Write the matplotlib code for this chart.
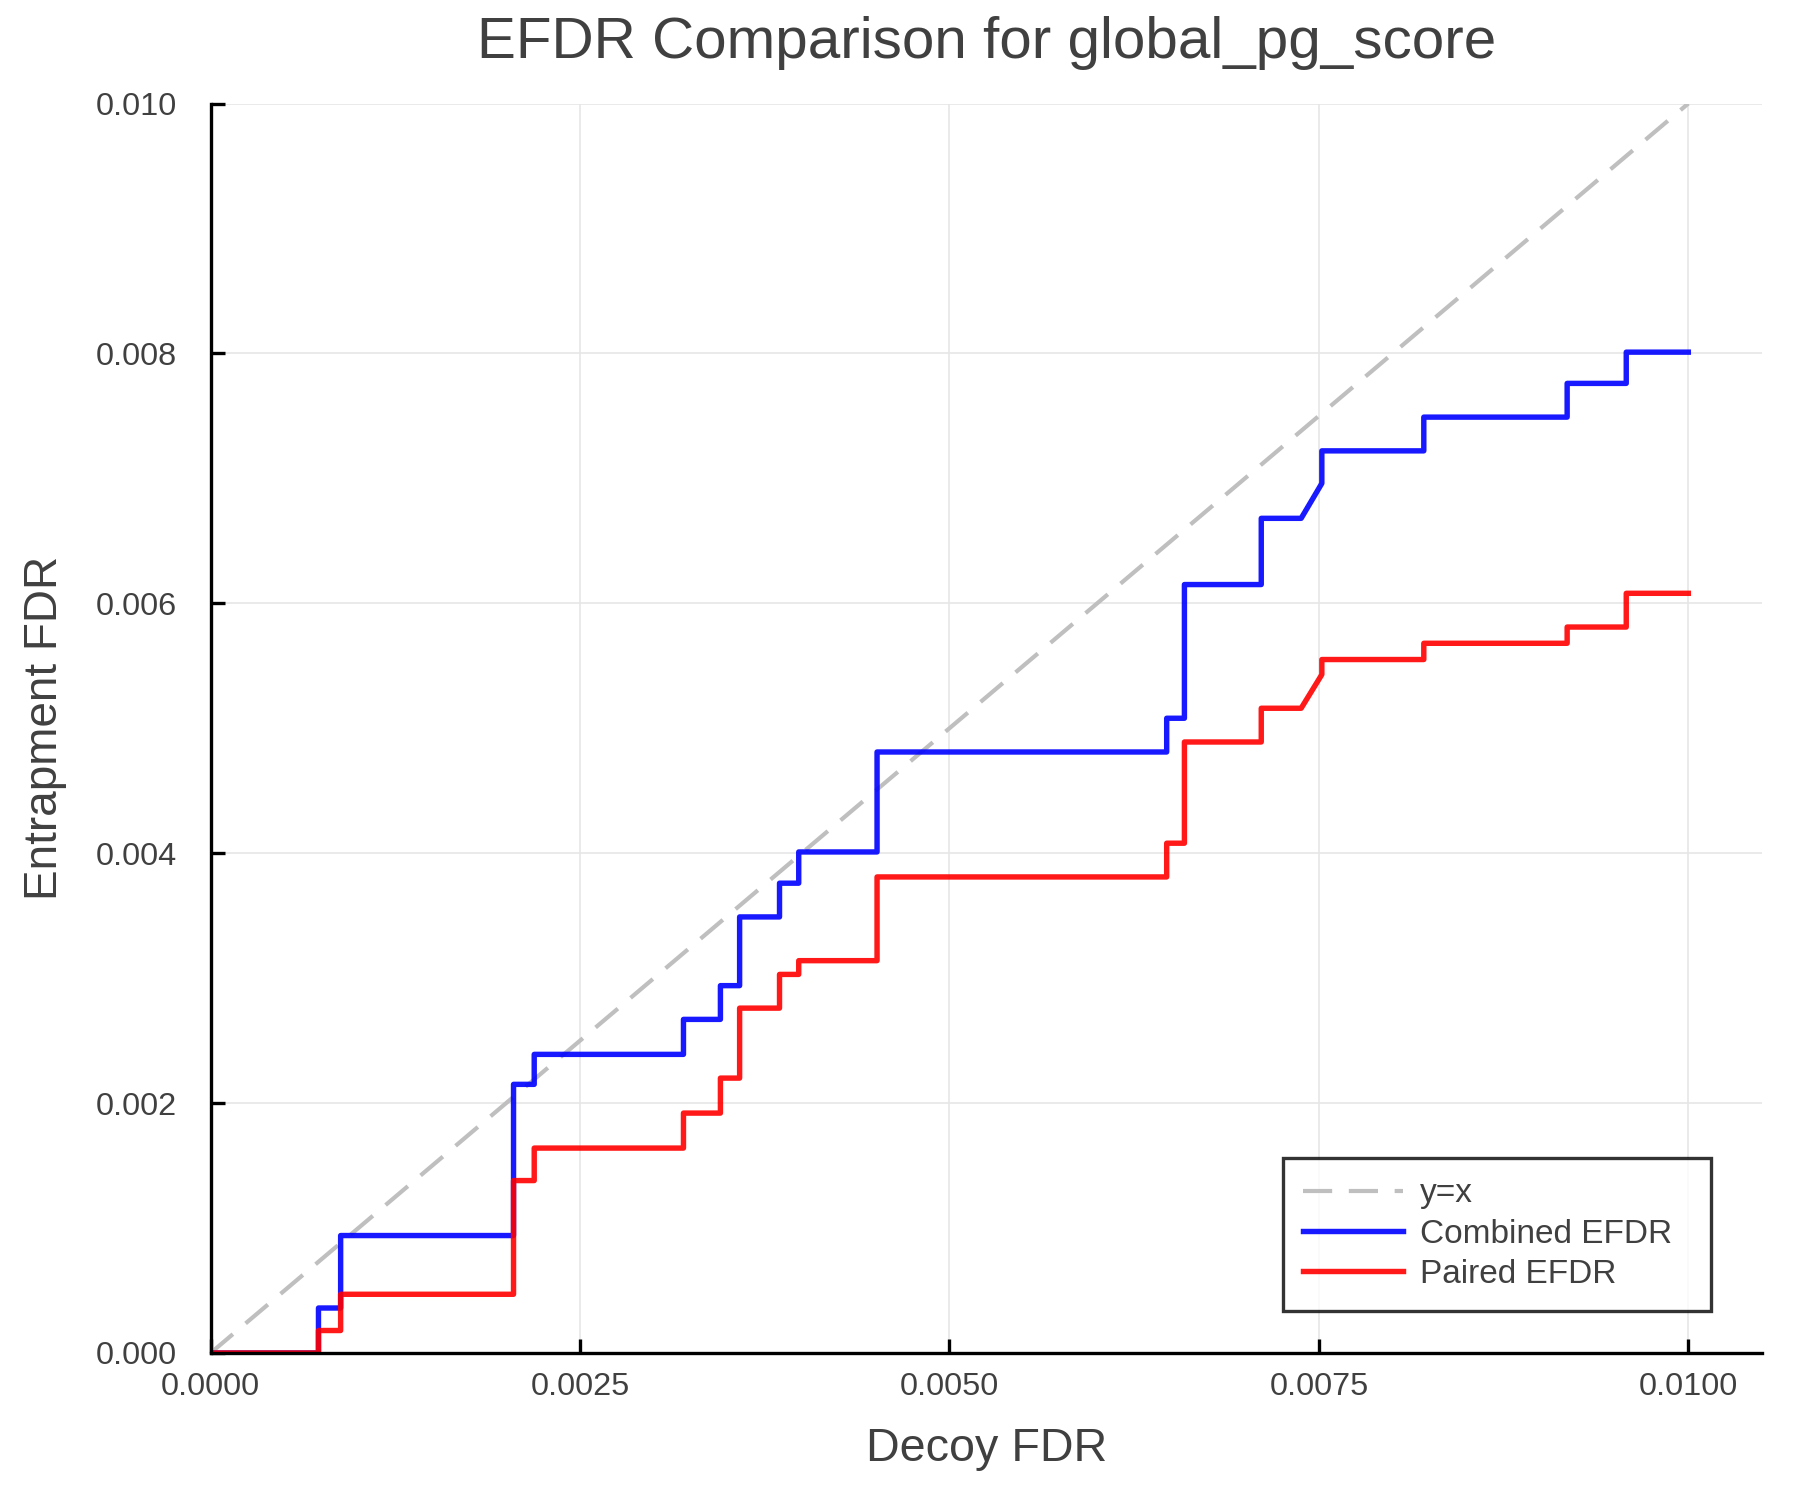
import numpy as np
import matplotlib
matplotlib.use("Agg")
import matplotlib.pyplot as plt

# values (decoy FDR -> entrapment FDR)
decoy_fdr = [0.0, 0.00073, 0.00073, 0.00088, 0.00088, 0.00205, 0.00205, 0.00219, 0.00219,
             0.00320, 0.00320, 0.00345, 0.00345, 0.00358, 0.00358, 0.00385, 0.00385,
             0.00398, 0.00398, 0.00451, 0.00451, 0.00647, 0.00647, 0.00659, 0.00659,
             0.00711, 0.00711, 0.00738, 0.00752, 0.00752, 0.00821, 0.00821, 0.00918,
             0.00918, 0.00958, 0.00958, 0.0100]
combined_efdr = [0.0, 0.0, 0.00036, 0.00036, 0.00094, 0.00094, 0.00215, 0.00215, 0.00239,
                 0.00239, 0.00267, 0.00267, 0.00294, 0.00294, 0.00349, 0.00349, 0.00376,
                 0.00376, 0.00401, 0.00401, 0.00481, 0.00481, 0.00508, 0.00508, 0.00615,
                 0.00615, 0.00668, 0.00668, 0.00696, 0.00722, 0.00722, 0.00749, 0.00749,
                 0.00776, 0.00776, 0.00801, 0.00801]
paired_efdr = [0.0, 0.0, 0.00018, 0.00018, 0.00047, 0.00047, 0.00138, 0.00138, 0.00164,
               0.00164, 0.00192, 0.00192, 0.00220, 0.00220, 0.00276, 0.00276, 0.00303,
               0.00303, 0.00314, 0.00314, 0.00381, 0.00381, 0.00408, 0.00408, 0.00489,
               0.00489, 0.00516, 0.00516, 0.00543, 0.00555, 0.00555, 0.00568, 0.00568,
               0.00581, 0.00581, 0.00608, 0.00608]
diag = [0.0, 0.01]
xticks = [0.0, 0.0025, 0.005, 0.0075, 0.01]
yticks = [0.0, 0.002, 0.004, 0.006, 0.008, 0.010]

txt = '#404040'
plt.rcParams['font.family'] = ['Liberation Sans', 'DejaVu Sans']

fig = plt.figure(figsize=(6, 5), dpi=300)
ax = fig.add_axes([0.117, 0.098, 0.862, 0.833])

ax.plot(diag, diag, color='#bfbfbf', lw=1.0, dashes=(7, 4), label='y=x')
ax.plot(decoy_fdr, combined_efdr, color='#0000ff', lw=1.3, label='Combined EFDR', alpha=0.9)
ax.plot(decoy_fdr, paired_efdr, color='#ff0000', lw=1.3, label='Paired EFDR', alpha=0.9)

ax.set_xlim(0, 0.0105)
ax.set_ylim(0, 0.010)
ax.set_xticks(xticks)
ax.set_xticklabels(['%.4f' % v for v in xticks])
ax.set_yticks(yticks)
ax.set_yticklabels(['%.3f' % v for v in yticks])

for s in ['top', 'right']:
    ax.spines[s].set_visible(False)
for s in ['left', 'bottom']:
    ax.spines[s].set_linewidth(0.8)
    ax.spines[s].set_color('black')

ax.tick_params(direction='in', length=3.4, width=0.8, color='black',
               labelsize=7.8, labelcolor=txt)
ax.tick_params(axis='y', pad=8)
ax.tick_params(axis='x', pad=4.5)
ax.grid(True, color='#e6e6e6', lw=0.4)
ax.set_axisbelow(True)

ax.set_title('EFDR Comparison for global_pg_score', fontsize=14, color=txt, pad=11)
ax.set_xlabel('Decoy FDR', fontsize=11.2, color=txt, labelpad=6)
ax.set_ylabel('Entrapment FDR', fontsize=11.0, color=txt, labelpad=7)

# legend box stretched to the width seen in the reference
leg = ax.legend(loc='lower left', bbox_to_anchor=(0.691, 0.034, 0.276, 0.12),
                mode='expand', borderaxespad=0,
                fontsize=8, fancybox=False, frameon=True, handlelength=3.0,
                labelspacing=0.28, borderpad=0.62, handletextpad=0.5)
leg.get_frame().set_edgecolor('black')
leg.get_frame().set_linewidth(0.8)
for t in leg.get_texts():
    t.set_color(txt)

fig.savefig('out.png', dpi=300)
